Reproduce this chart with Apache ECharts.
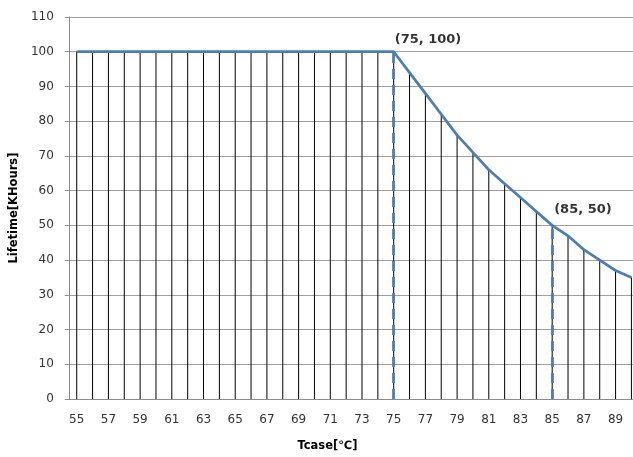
<!DOCTYPE html>
<html>
<head>
<meta charset="utf-8">
<script src="https://cdn.jsdelivr.net/npm/echarts@6/dist/echarts.min.js"></script>
<style>html,body{margin:0;padding:0;background:#fff;overflow:hidden}#c{width:633px;height:457px}</style>
</head>
<body>
<div id="c"></div>
<script>
var tcase = [55,56,57,58,59,60,61,62,63,64,65,66,67,68,69,70,71,72,73,74,75,76,77,78,79,80,81,82,83,84,85,86,87,88,89,90];
var lifetime = [100,100,100,100,100,100,100,100,100,100,100,100,100,100,100,100,100,100,100,100,100,94,88,82,76,71,66,62,58,54,50,47,43,40,37,35];
var xTickLabels = [55,57,59,61,63,65,67,69,71,73,75,77,79,81,83,85,87,89];
var markedTemps = [75, 85];
var yTicks = {min: 0, max: 110, interval: 10};

var blue = '#4A7EBB';
var points = tcase.map(function (t, i) { return [t, lifetime[i]]; });
var marked = markedTemps.map(function (t) { return [t, lifetime[tcase.indexOf(t)]]; });
var labelOffsets = [[1, -6], [2, -9]];

var chart = echarts.init(document.getElementById('c'), null, {renderer: 'canvas'});
chart.setOption({
  animation: false,
  backgroundColor: '#fff',
  grid: {left: 68, top: 17, right: 0, bottom: 55, containLabel: false},
  xAxis: {
    type: 'value',
    min: 54.5,
    max: 90.1,
    name: 'Tcase[℃]',
    nameLocation: 'middle',
    nameGap: 41,
    nameTextStyle: {fontFamily: 'DejaVu Sans', fontWeight: 'bold', fontSize: 11.5, color: '#000', padding: [0, 47, 0, 0]},
    axisLine: {lineStyle: {color: '#8c8c8c', width: 1}},
    axisTick: {show: false},
    axisLabel: {customValues: xTickLabels, margin: 15, fontFamily: 'DejaVu Sans', fontSize: 12, color: '#333'},
    splitLine: {show: false}
  },
  yAxis: {
    type: 'value',
    min: yTicks.min, max: yTicks.max, interval: yTicks.interval,
    name: 'Lifetime[KHours]',
    nameLocation: 'middle',
    nameRotate: 90,
    nameGap: 38,
    nameTextStyle: {fontFamily: 'DejaVu Sans', fontWeight: 'bold', fontSize: 11.5, color: '#000'},
    axisLine: {show: true, lineStyle: {color: '#8c8c8c', width: 1}},
    axisTick: {show: true, inside: false, length: 4, lineStyle: {color: '#8c8c8c'}},
    axisLabel: {margin: 15, fontFamily: 'DejaVu Sans', fontSize: 12, color: '#333'},
    splitLine: {show: true, lineStyle: {color: '#a0a0a0', width: 1}}
  },
  series: [
    {
      type: 'bar',
      data: points,
      barWidth: 1,
      itemStyle: {color: '#000'},
      silent: true,
      z: 2
    },
    {
      type: 'line',
      data: points,
      showSymbol: false,
      symbol: 'none',
      clip: true,
      lineStyle: {color: blue, width: 2.75},
      z: 4,
      markLine: {
        silent: true,
        symbol: ['none', 'none'],
        label: {show: false},
        lineStyle: {color: blue, width: 2.75, type: [10, 6]},
        data: marked.map(function (p) { return [{coord: [p[0], 0]}, {coord: [p[0], p[1]]}]; })
      }
    },
    {
      type: 'scatter',
      data: marked,
      symbolSize: 0.1,
      z: 5,
      label: {
        show: true,
        position: 'top',
        distance: 0,
        align: 'left',
        verticalAlign: 'bottom',
        fontFamily: 'DejaVu Sans',
        fontWeight: 'bold',
        fontSize: 13,
        color: '#000',
        formatter: function (p) { return '(' + p.value[0] + ', ' + p.value[1] + ')'; }
      },
      labelLayout: function (params) {
        var o = labelOffsets[params.dataIndex];
        return {dx: o[0], dy: o[1]};
      }
    }
  ]
});
</script>
</body>
</html>
